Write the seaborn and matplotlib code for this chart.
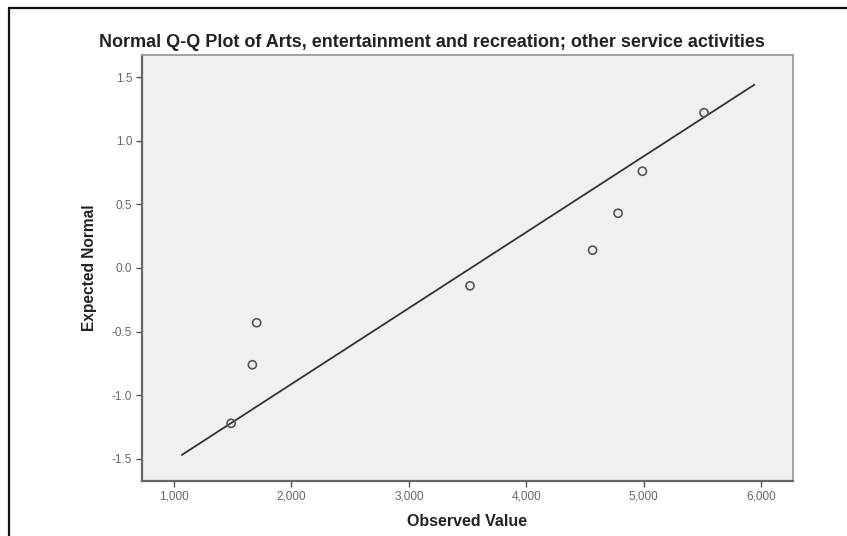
import numpy as np
import pandas as pd
import matplotlib
matplotlib.use("Agg")
import matplotlib.pyplot as plt
from matplotlib.lines import Line2D
import seaborn as sns

# Observed values and their expected normal scores
observed = [1486, 1667, 1704, 3521, 4565, 4782, 4989, 5514]
expected = [-1.22, -0.76, -0.43, -0.14, 0.14, 0.43, 0.76, 1.22]

# Extent of the reference line along the observed axis
line_extent = [1066, 5943]

x_ticks = [1000, 2000, 3000, 4000, 5000, 6000]
x_tick_labels = ["1,000", "2,000", "3,000", "4,000", "5,000", "6,000"]
y_ticks = [-1.5, -1.0, -0.5, 0.0, 0.5, 1.0, 1.5]
y_tick_labels = ["-1.5", "-1.0", "-0.5", "0.0", "0.5", "1.0", "1.5"]

points = pd.DataFrame({"Observed Value": observed, "Expected Normal": expected})

# Reference line: standardised observed values
mu = np.mean(observed)
sd = np.std(observed, ddof=1)
line = pd.DataFrame({"Observed Value": line_extent,
                     "Expected Normal": [(v - mu) / sd for v in line_extent]})

sns.set_theme(style="white")
plt.rcParams["font.family"] = ["Liberation Sans", "DejaVu Sans"]

fig = plt.figure(figsize=(8.47, 5.36), dpi=100)
ax = fig.add_axes([142 / 847, 1 - 481 / 536, (793 - 142) / 847, (481 - 55) / 536])
ax.set_facecolor("#f0f0f0")

sns.lineplot(data=line, x="Observed Value", y="Expected Normal", ax=ax,
             color="#333333", linewidth=1.3, zorder=2)
sns.scatterplot(data=points, x="Observed Value", y="Expected Normal", ax=ax,
                marker="o", s=34, facecolor="none", edgecolor="#555555",
                linewidth=1.2, zorder=3)

ax.set_xlim(727, 6272)
ax.set_ylim(-1.673, 1.673)
ax.set_xticks(x_ticks)
ax.set_xticklabels(x_tick_labels)
ax.set_yticks(y_ticks)
ax.set_yticklabels(y_tick_labels)
ax.tick_params(axis="both", which="major", direction="out", length=4, width=1,
               color="#555555", labelsize=8.5, labelcolor="#666666", pad=3)
ax.tick_params(axis="x", bottom=True)
ax.tick_params(axis="y", left=True)

for side in ["left", "bottom"]:
    ax.spines[side].set_color("#666666")
    ax.spines[side].set_linewidth(1.6)
for side in ["top", "right"]:
    ax.spines[side].set_color("#9a9a9a")
    ax.spines[side].set_linewidth(1.3)

ax.set_xlabel("Observed Value", fontsize=11.5, fontweight="bold", color="#222222", labelpad=8)
ax.set_ylabel("Expected Normal", fontsize=11.2, fontweight="bold", color="#222222", labelpad=11)

fig.text(432 / 847, 1 - 42 / 536,
         "Normal Q-Q Plot of Arts, entertainment and recreation; other service activities",
         ha="center", va="center", fontsize=13, fontweight="bold", color="#222222")

# Outer frame strokes on the top and left edges
fig.add_artist(Line2D([9 / 847, 1.0], [1 - 8 / 536, 1 - 8 / 536],
                      transform=fig.transFigure, color="#111111", linewidth=1.6))
fig.add_artist(Line2D([9 / 847, 9 / 847], [0.0, 1 - 8 / 536],
                      transform=fig.transFigure, color="#111111", linewidth=1.6))

fig.savefig("out.png", dpi=100, facecolor="white")
